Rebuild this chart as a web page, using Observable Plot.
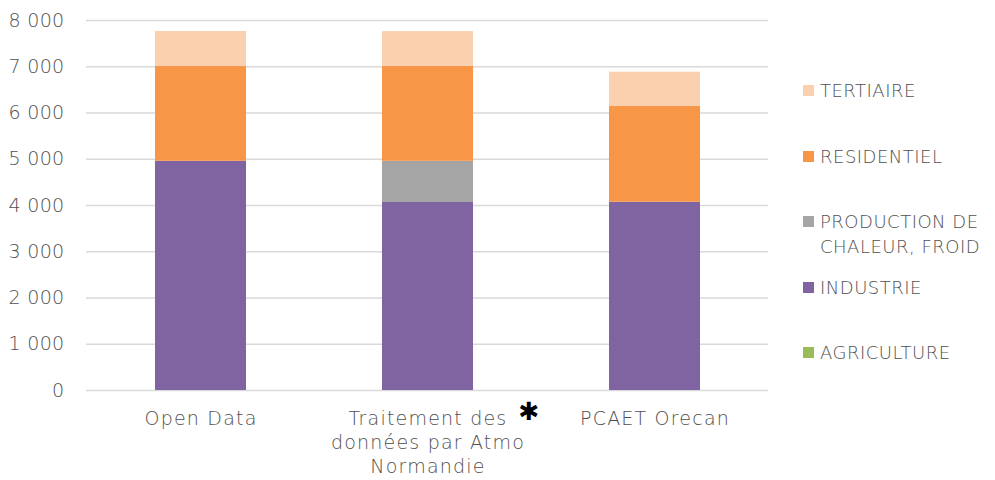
<!DOCTYPE html>
<html>
<head>
<meta charset="utf-8">
<script src="https://cdn.jsdelivr.net/npm/d3@7"></script>
<script src="https://cdn.jsdelivr.net/npm/@observablehq/plot@0.6"></script>
<style>
  html, body { margin: 0; padding: 0; background: #fff; }
  #wrap { position: relative; width: 995px; height: 480px; font-family: "DejaVu Sans", sans-serif; font-weight: 200; color: #505050; }
  #legend { position: absolute; left: 803px; top: 0; }
  .entry { position: absolute; left: 0; display: flex; align-items: flex-start; font-size: 18px; line-height: 25px; white-space: nowrap; letter-spacing: 0.5px; }
  .sw { width: 11px; height: 11px; margin-top: 7px; margin-right: 6px; flex: none; }
</style>
</head>
<body>
<div id="wrap"><div id="chart"></div><div id="legend"></div></div>
<script>
const categories = ["Open Data", "Traitement des données par Atmo Normandie", "PCAET Orecan"];
const categoryLabels = ["Open Data", "Traitement des\ndonnées par Atmo\nNormandie", "PCAET Orecan"];
const series = ["AGRICULTURE", "INDUSTRIE", "PRODUCTION DE CHALEUR, FROID", "RESIDENTIEL", "TERTIAIRE"];
const legendLabels = ["TERTIAIRE", "RESIDENTIEL", "PRODUCTION DE<br>CHALEUR, FROID", "INDUSTRIE", "AGRICULTURE"];
const legendSeries = ["TERTIAIRE", "RESIDENTIEL", "PRODUCTION DE CHALEUR, FROID", "INDUSTRIE", "AGRICULTURE"];
const colors = ["#9BBB59", "#8064A2", "#A5A5A5", "#F79646", "#FBD0AE"];

const agriculture = [0, 0, 0];
const industrie = [4955, 4065, 4070];
const production = [0, 890, 0];
const residentiel = [2050, 2055, 2070];
const tertiaire = [757, 750, 743];

const yTicks = [0, 1000, 2000, 3000, 4000, 5000, 6000, 7000, 8000];
const annotation = ["✱"];

const valuesBySeries = [agriculture, industrie, production, residentiel, tertiaire];
const rows = [];
series.forEach((s, si) => categories.forEach((c, ci) => rows.push({cat: c, series: s, value: valuesBySeries[si][ci]})));

const fmt = d3.formatLocale({thousands: " ", grouping: [3], decimal: ","}).format(",");

const chart = Plot.plot({
  width: 780,
  height: 480,
  marginLeft: 86,
  marginRight: 12,
  marginTop: 20,
  marginBottom: 90,
  style: {fontFamily: '"DejaVu Sans", sans-serif', fontWeight: 200, color: "#505050", background: "transparent"},
  x: {domain: categories, paddingInner: 0.6, paddingOuter: 0.3, label: null},
  y: {domain: [0, 8000], label: null},
  color: {domain: series, range: colors},
  marks: [
    Plot.ruleY(yTicks, {stroke: "#D9D9D9", strokeWidth: 1.4}),
    Plot.barY(rows, {x: "cat", y: "value", fill: "series", order: series}),
    Plot.axisY({ticks: yTicks, tickSize: 0, tickPadding: 22, tickFormat: fmt, fontSize: 19, fill: "#505050"}),
    Plot.axisX({tickSize: 0, tickPadding: 17, fontSize: 19, fill: "#505050", lineHeight: 1.27,
      tickFormat: (d) => categoryLabels[categories.indexOf(d)]}),
    Plot.text(annotation, {x: () => categories[1], frameAnchor: "bottom", text: (d) => d, dx: 101, dy: 29, fontSize: 25, fontWeight: 400, fill: "#000"})
  ]
});
d3.select(chart).selectAll('g[aria-label="x-axis tick label"]').style("letter-spacing", "1.2px");
d3.select(chart).selectAll('g[aria-label="y-axis tick label"]').style("letter-spacing", "0.3px");
document.getElementById("chart").appendChild(chart);

const legend = document.getElementById("legend");
const tops = [78, 144, 209, 275, 340];
legendSeries.forEach((s, i) => {
  const e = document.createElement("div");
  e.className = "entry";
  e.style.top = tops[i] + "px";
  e.innerHTML = `<div class="sw" style="background:${colors[series.indexOf(s)]}"></div><div>${legendLabels[i]}</div>`;
  legend.appendChild(e);
});
</script>
</body>
</html>
